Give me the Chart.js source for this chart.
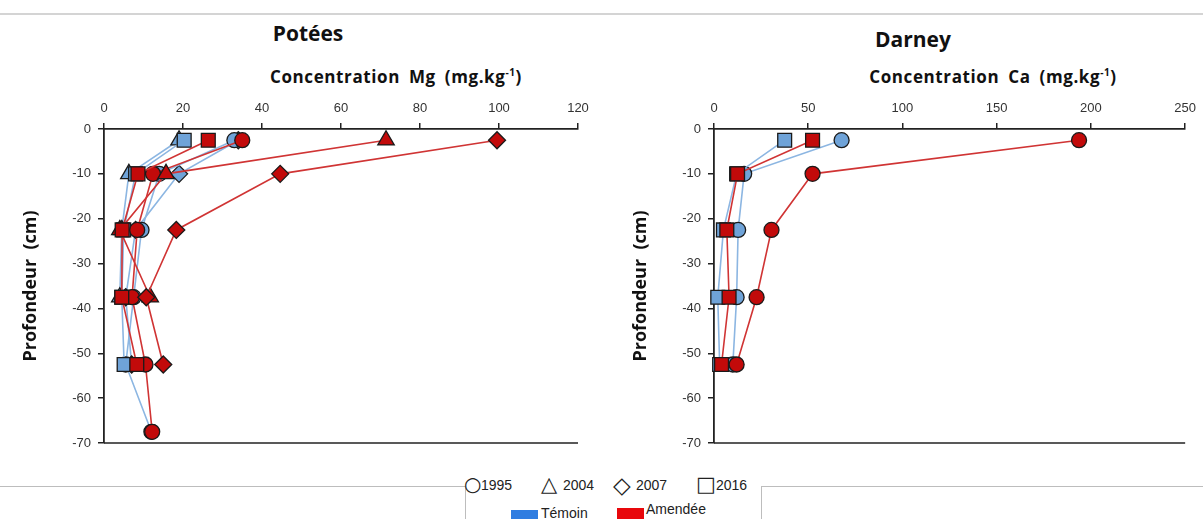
<!DOCTYPE html>
<html>
<head>
<meta charset="utf-8">
<script src="https://cdn.jsdelivr.net/npm/chart.js@4.4.1/dist/chart.umd.min.js"></script>
<style>
  html, body { margin:0; padding:0; background:#fff; }
  body { width:1203px; height:519px; position:relative; overflow:hidden; font-family:"Liberation Sans", Arial, sans-serif; }
  .abs { position:absolute; }
  .ttl { font-family:"Open Sans", Lato, sans-serif; font-weight:700; color:#111; text-align:center; white-space:nowrap; }
  canvas { position:absolute; }
  .leg { position:absolute; font-size:14px; color:#222; white-space:nowrap; }
  .sym { position:absolute; font-family:"DejaVu Sans", sans-serif; color:#222; line-height:1; }
</style>
</head>
<body>
<div class="abs" style="left:0;top:13px;width:1203px;height:2px;background:#d4d4d4;"></div>

<div class="abs ttl" style="left:208px;top:19px;width:200px;font-size:21px;">Potées</div>
<div class="abs ttl" style="left:813px;top:25px;width:200px;font-size:21px;">Darney</div>
<div class="abs ttl" style="left:196px;top:65px;width:400px;font-size:17px;letter-spacing:0.6px;word-spacing:4px;">Concentration Mg (mg.kg<sup style="font-size:10px;">-1</sup>)</div>
<div class="abs ttl" style="left:793px;top:65px;width:400px;font-size:17px;letter-spacing:0.6px;word-spacing:4px;">Concentration Ca (mg.kg<sup style="font-size:10px;">-1</sup>)</div>

<canvas id="c1" width="600" height="460" style="left:0;top:0;"></canvas>
<canvas id="c2" width="593" height="460" style="left:610px;top:0;"></canvas>

<!-- legend frame -->
<div class="abs" style="left:0;top:486px;width:466px;height:1px;background:#bdbdbd;"></div>
<div class="abs" style="left:761px;top:486px;width:442px;height:1px;background:#bdbdbd;"></div>
<div class="abs" style="left:465px;top:486px;width:1px;height:40px;background:#bdbdbd;"></div>
<div class="abs" style="left:761px;top:486px;width:1px;height:40px;background:#bdbdbd;"></div>

<div class="sym" style="left:464px;top:474px;font-size:20px;">○</div>
<div class="leg" style="left:481px;top:477px;">1995</div>
<div class="sym" style="left:541px;top:474px;font-size:21px;">△</div>
<div class="leg" style="left:563px;top:477px;">2004</div>
<div class="sym" style="left:613px;top:474px;font-size:23px;">◇</div>
<div class="leg" style="left:636px;top:477px;">2007</div>
<div class="sym" style="left:696px;top:474px;font-size:21px;">□</div>
<div class="leg" style="left:716px;top:477px;">2016</div>

<div class="abs" style="left:511px;top:510px;width:27px;height:9px;background:#2f7de1;"></div>
<div class="leg" style="left:541px;top:505px;">Témoin</div>
<div class="abs" style="left:617px;top:508px;width:27px;height:11px;background:#e8080c;"></div>
<div class="leg" style="left:646px;top:501px;">Amendée</div>

<script>
// ---------- DATA ----------
const years = ["1995", "2004", "2007", "2016"];
const groups = ["Témoin", "Amendée"];

// Potées – Mg (mg.kg-1)
const depthsPotees = [-2.5, -10, -22.5, -37.5, -52.5, -67.5];
const poteesTemoin1995 = [33, 14, 9.5, 7.5, 5.5, 12];
const poteesTemoin2004 = [19, 6.3, 4.5, 4];
const poteesTemoin2007 = [34, 19, 8, 5.5, 7];
const poteesTemoin2016 = [20.3, 8, 5, 4.5, 5.1];
const poteesAmendee1995 = [35, 12.4, 8.4, 7.1, 10.5, 12.2];
const poteesAmendee2004 = [71.4, 15.7, 4, 11.7];
const poteesAmendee2007 = [99.5, 44.6, 18.3, 10.7, 15];
const poteesAmendee2016 = [26.4, 8.6, 4.6, 4.5, 8.3];

// Darney – Ca (mg.kg-1)
const depthsDarney = [-2.5, -10, -22.5, -37.5, -52.5];
const darneyTemoin1995 = [67.7, 16, 12.8, 12, 10];
const darneyTemoin2016 = [37.5, 12, 5, 2, 3];
const darneyAmendee1995 = [193.7, 52.3, 30.5, 22.6, 12];
const darneyAmendee2016 = [52.3, 12.5, 6.8, 8, 4];

const yTicks = [0, -10, -20, -30, -40, -50, -60, -70];
const xTicksMg = [0, 20, 40, 60, 80, 100, 120];
const xTicksCa = [0, 50, 100, 150, 200, 250];

// ---------- STYLE ----------
const BLUE_FILL = '#6fa3d8', BLUE_LINE = '#8cb6e2';
const RED_FILL = '#c20a0a', RED_LINE = '#d03434';
const shapeOf = { "1995": ['circle', 7.5], "2004": ['triangle', 9.5], "2007": ['rectRot', 8.5], "2016": ['rect', 9.8] };

function ds(values, depths, year, group, order) {
  const blue = group === "Témoin";
  const [shape, r] = shapeOf[year];
  return {
    label: group + ' ' + year,
    order: order,
    data: values.map((v, i) => ({ x: v, y: depths[i] })),
    showLine: true,
    borderColor: blue ? BLUE_LINE : RED_LINE,
    borderWidth: 1.6,
    pointStyle: shape,
    pointRadius: r,
    pointBackgroundColor: blue ? BLUE_FILL : RED_FILL,
    pointBorderColor: '#1a1a1a',
    pointBorderWidth: 1.3,
    clip: false
  };
}

const bottomLine = {
  id: 'bottomLine',
  afterDraw(chart) {
    const { ctx, chartArea: a } = chart;
    ctx.save();
    ctx.strokeStyle = '#222';
    ctx.lineWidth = 1.5;
    ctx.beginPath();
    ctx.moveTo(a.left, a.bottom);
    ctx.lineTo(a.right, a.bottom);
    ctx.stroke();
    ctx.restore();
  }
};

function makeChart(id, datasets, xTicks, padRight) {
  const xmax = xTicks[xTicks.length - 1];
  return new Chart(document.getElementById(id), {
    type: 'scatter',
    data: { datasets },
    plugins: [bottomLine],
    options: {
      responsive: false,
      animation: false,
      devicePixelRatio: 1,
      layout: { padding: { left: 0, top: 0, right: padRight, bottom: 17 } },
      plugins: { legend: { display: false }, tooltip: { enabled: false }, title: { display: false } },
      scales: {
        x: {
          type: 'linear', position: 'top', min: 0, max: xmax,
          afterBuildTicks(s) { s.ticks = xTicks.map(v => ({ value: v })); },
          afterFit(s) { s.height = 129; },
          ticks: { color: '#333', padding: 7, font: { family: 'Liberation Sans', size: 13 } },
          grid: { drawOnChartArea: false, drawTicks: true, tickLength: 6, color: '#222', lineWidth: 1.5 },
          border: { display: true, color: '#222', width: 1.8 }
        },
        y: {
          type: 'linear', position: 'left', min: -70, max: 0,
          afterBuildTicks(s) { s.ticks = yTicks.map(v => ({ value: v })); },
          afterFit(s) { s.width = 104; },
          ticks: { color: '#333', padding: 7, font: { family: 'Liberation Sans', size: 13 } },
          grid: { drawOnChartArea: false, drawTicks: true, tickLength: 6, color: '#222', lineWidth: 1.5 },
          border: { display: true, color: '#222', width: 1.8 },
          title: { display: true, text: 'Profondeur  (cm)', color: '#111', padding: { top: 20, bottom: 0 },
                   font: { family: 'Open Sans', weight: 'bold', size: 18 } }
        }
      }
    }
  });
}

// later datasets drawn on top (lower order = on top)
makeChart('c1', [
  ds(poteesTemoin1995, depthsPotees, "1995", "Témoin", 8),
  ds(poteesTemoin2004, depthsPotees, "2004", "Témoin", 7),
  ds(poteesTemoin2007, depthsPotees, "2007", "Témoin", 9),
  ds(poteesTemoin2016, depthsPotees, "2016", "Témoin", 5),
  ds(poteesAmendee1995, depthsPotees, "1995", "Amendée", 4),
  ds(poteesAmendee2004, depthsPotees, "2004", "Amendée", 3),
  ds(poteesAmendee2007, depthsPotees, "2007", "Amendée", 2),
  ds(poteesAmendee2016, depthsPotees, "2016", "Amendée", 1)
], xTicksMg, 22);

makeChart('c2', [
  ds(darneyTemoin1995, depthsDarney, "1995", "Témoin", 4),
  ds(darneyTemoin2016, depthsDarney, "2016", "Témoin", 3),
  ds(darneyAmendee1995, depthsDarney, "1995", "Amendée", 2),
  ds(darneyAmendee2016, depthsDarney, "2016", "Amendée", 1)
], xTicksCa, 15);
</script>
</body>
</html>
